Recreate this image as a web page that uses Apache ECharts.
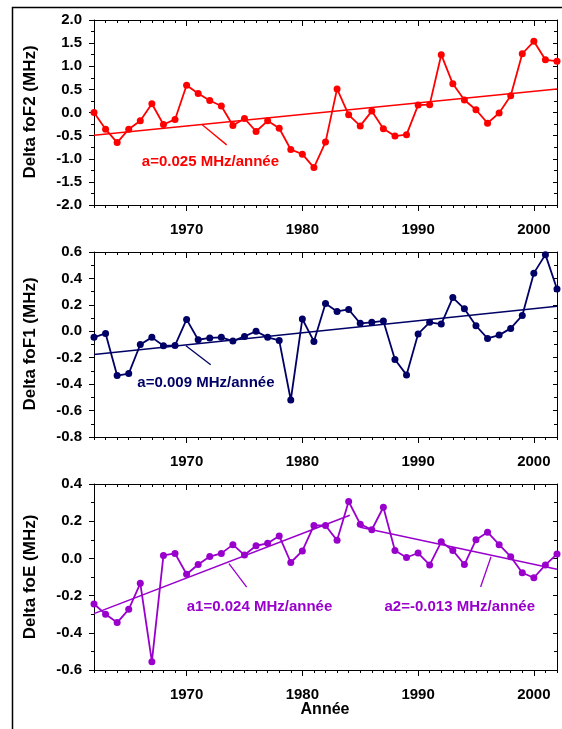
<!DOCTYPE html>
<html><head><meta charset="utf-8">
<script src="https://cdn.jsdelivr.net/npm/echarts@6/dist/echarts.min.js"></script>
<style>html,body{margin:0;padding:0;background:#fff}#c{width:562px;height:729px}</style>
</head><body><div id="c"></div>
<script>
const years = [1962,1963,1964,1965,1966,1967,1968,1969,1970,1971,1972,1973,1974,1975,1976,1977,1978,1979,1980,1981,
  1982,1983,1984,1985,1986,1987,1988,1989,1990,1991,1992,1993,1994,1995,1996,1997,1998,1999,2000,2001,2002];
const decadeTicks = [1970,1980,1990,2000];

const foF2 = [0.0,-0.36,-0.65,-0.36,-0.18,0.19,-0.26,-0.15,0.59,0.41,0.26,0.14,-0.28,-0.13,-0.41,-0.18,-0.34,-0.80,-0.90,-1.19,
  -0.64,0.51,-0.05,-0.29,0.03,-0.35,-0.51,-0.48,0.16,0.17,1.25,0.62,0.27,0.06,-0.23,-0.01,0.36,1.27,1.54,1.14,1.11];
const foF1 = [-0.046,-0.016,-0.335,-0.32,-0.10,-0.046,-0.11,-0.107,0.09,-0.064,-0.05,-0.046,-0.074,-0.039,0.0,-0.046,-0.069,-0.52,0.093,-0.077,
  0.21,0.15,0.165,0.06,0.068,0.078,-0.214,-0.33,-0.02,0.068,0.055,0.255,0.17,0.042,-0.054,-0.029,0.022,0.12,0.44,0.58,0.32];
const foE = [-0.245,-0.30,-0.345,-0.274,-0.134,-0.555,0.016,0.027,-0.085,-0.033,0.01,0.027,0.074,0.018,0.068,0.081,0.121,-0.022,0.04,0.177,
  0.177,0.097,0.306,0.184,0.154,0.275,0.043,0.005,0.029,-0.035,0.089,0.043,-0.033,0.1,0.141,0.074,0.009,-0.077,-0.104,-0.035,0.023];

const trendF2 = [[1962,-0.49],[2002,0.51]];
const trendF1 = [[1962,-0.175],[2002,0.19]];
const trendE1 = [[1962,-0.297],[1984.1,0.232]];
const trendE2 = [[1985,0.168],[2002,-0.058]];

const pointerF2 = [[1971.3,-0.255],[1973.46,-0.70]];
const pointerF1 = [[1969.94,-0.11],[1972.08,-0.254]];
const pointerE1 = [[1973.66,-0.028],[1975.19,-0.154]];
const pointerE2 = [[1996.3,0.009],[1995.4,-0.154]];

const textF2 = {x:1972.06, y:-1.06, t:'a=0.025 MHz/année'};
const textF1 = {x:1971.67, y:-0.387, t:'a=0.009 MHz/année'};
const textE1 = {x:1976.3, y:-0.263, t:'a1=0.024 MHz/année'};
const textE2 = {x:1993.6, y:-0.263, t:'a2=-0.013 MHz/année'};

const yNames = ['Delta foF2 (MHz)','Delta foF1 (MHz)','Delta foE (MHz)'];
const xName = 'Année';
const yRanges = [{min:-2,max:2,step:0.5},{min:-0.8,max:0.6,step:0.2},{min:-0.6,max:0.4,step:0.2}];

const FONT = "'Liberation Sans', Arial, sans-serif";
const colors = ['#ff0000','#000066','#9900cc'];
const rects = [{top:20,height:185},{top:252,height:185},{top:484,height:186}];
const LEFT = 94, WIDTH = 463;

const panels = [
  {data:foF2, trends:[trendF2], pointers:[pointerF2], texts:[textF2]},
  {data:foF1, trends:[trendF1], pointers:[pointerF1], texts:[textF1]},
  {data:foE, trends:[trendE1,trendE2], pointers:[pointerE1,pointerE2], texts:[textE1,textE2]}
];

const grid = [], xAxis = [], yAxis = [], series = [];
const axisLineStyle = {color:'#000', width:1};
const fmt = v => (Math.abs(v) < 1e-9 ? 0 : v).toFixed(1);

panels.forEach((p, i) => {
  const r = rects[i];
  grid.push({left:LEFT, width:WIDTH, top:r.top, height:r.height, containLabel:false});
  grid.push({left:LEFT, width:WIDTH, top:r.top, height:r.height, containLabel:false});
  const gA = 2*i, gB = 2*i+1;
  xAxis.push({gridIndex:gA, type:'value', min:1962, max:2002, interval:1, position:'bottom',
    axisLine:{show:true, onZero:false, lineStyle:axisLineStyle},
    axisTick:{show:true, length:3, lineStyle:axisLineStyle},
    axisLabel:{show:false}, splitLine:{show:false}});
  xAxis.push({gridIndex:gA, type:'value', min:1962, max:2002, interval:1, position:'top',
    axisLine:{show:true, onZero:false, lineStyle:axisLineStyle},
    axisTick:{show:true, inside:true, length:3, lineStyle:axisLineStyle},
    axisLabel:{show:false}, splitLine:{show:false}});
  xAxis.push({gridIndex:gB, type:'value', min:1962, max:2002, position:'bottom',
    axisLine:{show:false, onZero:false},
    axisTick:{show:true, length:6, customValues:decadeTicks, lineStyle:axisLineStyle},
    axisLabel:{show:true, customValues:decadeTicks, margin:17, formatter:v => String(v),
      color:'#000', fontFamily:FONT, fontWeight:'bold', fontSize:15},
    splitLine:{show:false}});
  xAxis.push({gridIndex:gB, type:'value', min:1962, max:2002, position:'top',
    axisLine:{show:false, onZero:false},
    axisTick:{show:true, inside:true, length:6, customValues:decadeTicks, lineStyle:axisLineStyle},
    axisLabel:{show:false}, splitLine:{show:false}});
  const yr = yRanges[i];
  yAxis.push({gridIndex:gA, type:'value', min:yr.min, max:yr.max, interval:yr.step, position:'left',
    axisLine:{show:true, onZero:false, lineStyle:axisLineStyle},
    axisTick:{show:true, length:5, lineStyle:axisLineStyle},
    minorTick:{show:true, splitNumber:2, length:3, lineStyle:axisLineStyle},
    axisLabel:{show:true, margin:12, formatter:fmt, color:'#000', fontFamily:FONT, fontWeight:'bold', fontSize:15},
    splitLine:{show:false}, minorSplitLine:{show:false}});
  yAxis.push({gridIndex:gA, type:'value', min:yr.min, max:yr.max, interval:yr.step, position:'right',
    axisLine:{show:true, onZero:false, lineStyle:axisLineStyle},
    axisTick:{show:true, inside:true, length:4, lineStyle:axisLineStyle},
    minorTick:{show:true, splitNumber:2, length:3, lineStyle:axisLineStyle},
    axisLabel:{show:false}, splitLine:{show:false}, minorSplitLine:{show:false}});
  yAxis.push({gridIndex:gB, type:'value', min:yr.min, max:yr.max, show:false});

  const xi = 4*i, yi = 3*i, col = colors[i];
  p.trends.forEach(t => series.push({type:'line', xAxisIndex:xi, yAxisIndex:yi, data:t, symbol:'none',
    lineStyle:{color:col, width:1.5}, silent:true, animation:false, z:2}));
  p.pointers.forEach(t => series.push({type:'line', xAxisIndex:xi, yAxisIndex:yi, data:t, symbol:'none',
    lineStyle:{color:col, width:1.3}, silent:true, animation:false, z:2}));
  series.push({type:'line', xAxisIndex:xi, yAxisIndex:yi, data:years.map((y,k)=>[y,p.data[k]]),
    symbol:'circle', symbolSize:7, showSymbol:true, clip:false,
    itemStyle:{color:col}, lineStyle:{color:col, width:1.8}, animation:false, z:3});
});

const chart = echarts.init(document.getElementById('c'), null, {renderer:'canvas'});
chart.setOption({
  backgroundColor:'#fff', animation:false,
  grid, xAxis, yAxis, series
});

const graphic = [];
graphic.push({type:'rect', left:10, top:5, shape:{x:0,y:0,width:580,height:760},
  style:{fill:'none', stroke:'#000', lineWidth:1.5}, silent:true, z:0});
const nameCenters = [112, 344, 577];
yNames.forEach((n, i) => {
  graphic.push({type:'text', x:30, y:nameCenters[i], rotation:Math.PI/2,
    style:{text:n, font:'bold 17px ' + FONT, fill:'#000', textAlign:'center', textVerticalAlign:'middle'}});
});
graphic.push({type:'text', x:325, y:710,
  style:{text:xName, font:'bold 16px ' + FONT, fill:'#000', textAlign:'center', textVerticalAlign:'middle'}});
panels.forEach((p, i) => {
  p.texts.forEach(t => {
    const px = chart.convertToPixel({xAxisIndex:4*i, yAxisIndex:3*i}, [t.x, t.y]);
    graphic.push({type:'text', x:px[0], y:px[1],
      style:{text:t.t, font:'bold 15px ' + FONT, fill:colors[i], textAlign:'center', textVerticalAlign:'middle'}});
  });
});
chart.setOption({graphic});
</script></body></html>
